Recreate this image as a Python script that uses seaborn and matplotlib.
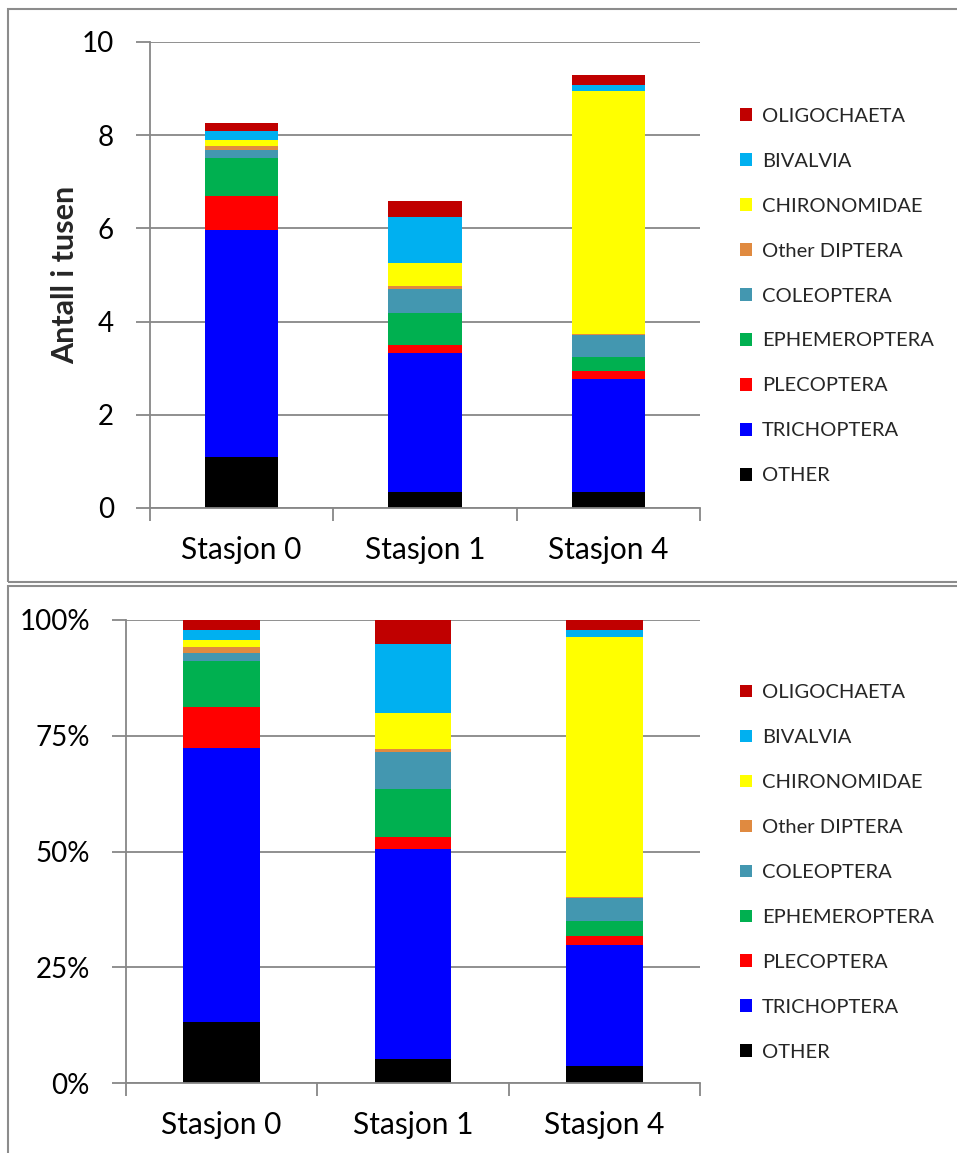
import matplotlib
matplotlib.use("Agg")
import matplotlib.pyplot as plt
from matplotlib.patches import Patch, Rectangle
from matplotlib.ticker import FixedLocator, FuncFormatter
import pandas as pd
import seaborn as sns

# Stations and taxa (stacking order from bottom to top)
stations = ["Stasjon 0", "Stasjon 1", "Stasjon 4"]
taxa = ["OTHER", "TRICHOPTERA", "PLECOPTERA", "EPHEMEROPTERA", "COLEOPTERA",
        "Other DIPTERA", "CHIRONOMIDAE", "BIVALVIA", "OLIGOCHAETA"]

# Counts per station, in thousands
other = [1.09, 0.34, 0.34]
trichoptera = [4.88, 2.99, 2.43]
plecoptera = [0.73, 0.17, 0.18]
ephemeroptera = [0.82, 0.68, 0.30]
coleoptera = [0.16, 0.53, 0.47]
other_diptera = [0.09, 0.05, 0.02]
chironomidae = [0.13, 0.50, 5.21]
bivalvia = [0.19, 0.99, 0.13]
oligochaeta = [0.17, 0.34, 0.21]

series = [other, trichoptera, plecoptera, ephemeroptera, coleoptera,
          other_diptera, chironomidae, bivalvia, oligochaeta]
colors = ["#000000", "#0000FF", "#FF0000", "#00B050", "#4397B0",
          "#E08A40", "#FFFF00", "#00B0F0", "#C00000"]

# Long table with cumulative heights for drawing stacked bars
rows = []
for taxon, vals in zip(taxa, series):
    for st, v in zip(stations, vals):
        rows.append({"station": st, "taxon": taxon, "value": v})
df = pd.DataFrame(rows)
df["taxon"] = pd.Categorical(df["taxon"], categories=taxa, ordered=True)
df = df.sort_values(["station", "taxon"])
df["cum"] = df.groupby("station")["value"].cumsum()
df["total"] = df.groupby("station")["value"].transform("sum")
df["cum_pct"] = df["cum"] / df["total"] * 100

sns.set_theme(style="white")
plt.rcParams["font.family"] = ["Lato", "DejaVu Sans"]

W, H = 957, 1153
fig = plt.figure(figsize=(W / 100, H / 100), dpi=100)


def px_rect(x0, y0, x1, y1):
    return [x0 / W, 1 - y1 / H, (x1 - x0) / W, (y1 - y0) / H]


# Panel frames
fig.add_artist(Rectangle((8 / W, 1 - 582 / H), 1.0, (582 - 9) / H,
                         transform=fig.transFigure, fill=False,
                         edgecolor="#8c8c8c", lw=1.5, clip_on=False))
fig.add_artist(Rectangle((8 / W, -0.05), 1.0, 0.05 + (1153 - 586) / H,
                         transform=fig.transFigure, fill=False,
                         edgecolor="#8c8c8c", lw=1.5, clip_on=False))

ax_top = fig.add_axes(px_rect(150, 42, 700, 508))
ax_bot = fig.add_axes(px_rect(126, 620, 700, 1083))

GRID = "#878787"


def stacked(ax, col):
    # Draw tallest cumulative layer first so lower layers sit on top of it
    for taxon, c in reversed(list(zip(taxa, colors))):
        sub = df[df["taxon"] == taxon]
        sns.barplot(data=sub, x="station", y=col, order=stations, color=c,
                    saturation=1, width=0.4, linewidth=0, ax=ax, errorbar=None)
    ax.set_xlabel("")
    ax.set_ylabel("")
    ax.set_xlim(-0.5, 2.5)
    ax.set_axisbelow(True)
    ax.yaxis.grid(True, color=GRID, lw=1.3)
    ax.xaxis.grid(False)
    for s in ("top", "right"):
        ax.spines[s].set_visible(False)
    for s in ("left", "bottom"):
        ax.spines[s].set_color(GRID)
        ax.spines[s].set_linewidth(1.3)
    ax.tick_params(axis="y", direction="out", length=10, width=1.3,
                   color=GRID, labelsize=20, pad=16, left=True, labelcolor="black")
    ax.tick_params(axis="x", which="major", length=0, labelsize=21.5, pad=20,
                   labelcolor="black")
    ax.xaxis.set_minor_locator(FixedLocator([-0.5, 0.5, 1.5, 2.5]))
    ax.tick_params(axis="x", which="minor", direction="out", length=9,
                   width=1.3, color=GRID, bottom=True)
    handles = [Patch(facecolor=c, edgecolor="none") for c in reversed(colors)]
    return handles


def add_legend(ax, handles, center_px):
    ax.legend(handles, list(reversed(taxa)), loc="center left",
              bbox_to_anchor=(740 / W, 1 - center_px / H),
              bbox_transform=fig.transFigure, frameon=False, fontsize=14.5,
              handlelength=0.6, handleheight=0.6, handletextpad=0.5,
              labelspacing=1.39, borderpad=0, borderaxespad=0)


h = stacked(ax_top, "cum")
ax_top.set_ylim(0, 10)
ax_top.set_yticks([0, 2, 4, 6, 8, 10])
ax_top.text(-0.155, 0.5, "Antall i tusen", transform=ax_top.transAxes,
            rotation=90, ha="center", va="center", fontsize=22,
            fontweight="bold")
add_legend(ax_top, h, 296)

h = stacked(ax_bot, "cum_pct")
ax_bot.set_ylim(0, 100)
ax_bot.set_yticks([0, 25, 50, 75, 100])
ax_bot.yaxis.set_major_formatter(FuncFormatter(lambda v, p: f"{v:.0f}%"))
add_legend(ax_bot, h, 872.5)

fig.savefig("out.png", dpi=100, facecolor="white")
